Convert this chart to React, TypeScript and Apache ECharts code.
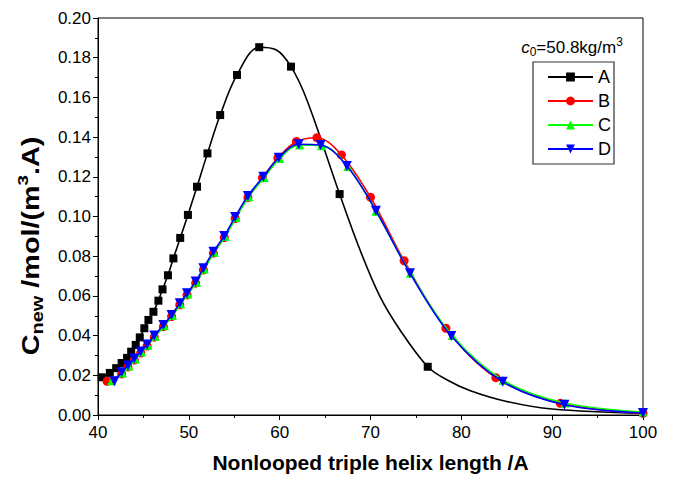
import React, { useEffect, useRef } from "react";
import * as echarts from "echarts";

// Series A (black squares); entries flagged true are read off the drawn line (no marker there)
const seriesA: [number, number, boolean?][] = [
  [40.4, 0.0190], [41.3, 0.0212], [42.0, 0.0236], [42.6, 0.0262], [43.2, 0.0288],
  [43.65, 0.0319], [44.15, 0.0353], [44.6, 0.0391], [45.1, 0.0437], [45.55, 0.0479],
  [46.1, 0.0520], [46.65, 0.0576], [47.1, 0.0633], [47.7, 0.0704], [48.3, 0.0789],
  [49.05, 0.0892], [49.9, 0.1008], [50.9, 0.1150], [52.05, 0.1318], [53.45, 0.1511],
  [55.3, 0.1713], [57.75, 0.1853], [59.6, 0.1840, true], [61.25, 0.1755],
  [63.0, 0.1587, true], [66.6, 0.1113], [68.85, 0.0831, true],
  [71.05, 0.0596, true], [73.25, 0.0428, true], [76.3, 0.0243], [78.5, 0.0175, true],
  [81.0, 0.0122, true], [85.0, 0.0068, true], [90.0, 0.0030, true], [100.0, 0.0008, true],
];

const seriesB: [number, number][] = [
  [41.0, 0.0170], [42.6, 0.0207], [43.3, 0.0242], [44.0, 0.0277], [44.7, 0.0312],
  [45.4, 0.0347], [46.2, 0.0392], [47.2, 0.0445], [48.1, 0.0496], [49.0, 0.0555],
  [49.8, 0.0605], [50.75, 0.0664], [51.6, 0.0731], [52.7, 0.0815], [53.9, 0.0894],
  [55.1, 0.0990], [56.5, 0.1095], [58.1, 0.1195], [59.8, 0.1295], [61.85, 0.1378],
  [64.1, 0.1397], [66.8, 0.1310], [70.0, 0.1097], [73.7, 0.0777], [78.3, 0.0437],
  [83.8, 0.0188], [90.9, 0.0059], [100.0, 0.0008],
];

const seriesC: [number, number][] = [
  [41.5, 0.0172], [42.7, 0.0212], [43.4, 0.0247], [44.1, 0.0282], [44.8, 0.0317],
  [45.5, 0.0352], [46.3, 0.0397], [47.3, 0.0450], [48.2, 0.0501], [49.1, 0.0560],
  [49.9, 0.0610], [50.85, 0.0669], [51.7, 0.0736], [52.8, 0.0820], [54.0, 0.0899],
  [55.2, 0.0995], [56.6, 0.1100], [58.3, 0.1197], [60.0, 0.1292], [62.2, 0.1360],
  [64.6, 0.1357], [67.5, 0.1252], [70.6, 0.1027], [74.4, 0.0714], [79.0, 0.0400],
  [84.6, 0.0175], [91.4, 0.0060], [100.0, 0.0015],
];

const seriesD: [number, number][] = [
  [41.8, 0.0170], [42.6, 0.0215], [43.3, 0.0250], [44.0, 0.0285], [44.7, 0.0320],
  [45.4, 0.0355], [46.2, 0.0400], [47.2, 0.0453], [48.1, 0.0504], [49.0, 0.0563],
  [49.8, 0.0613], [50.75, 0.0672], [51.6, 0.0739], [52.7, 0.0823], [53.9, 0.0902],
  [55.1, 0.0998], [56.5, 0.1103], [58.2, 0.1200], [59.9, 0.1296], [62.1, 0.1364],
  [64.5, 0.1360], [67.4, 0.1254], [70.6, 0.1029], [74.35, 0.0714], [78.9, 0.0398],
  [84.55, 0.0168], [91.35, 0.0052], [100.0, 0.0010],
];

const seriesNames = ["A", "B", "C", "D"];
const seriesColors = ["#000000", "#ff0000", "#00ff00", "#0000ff"];

const FONT = "Liberation Sans, Arial, sans-serif";

export default function App() {
  const ref = useRef<HTMLDivElement>(null);
  useEffect(() => {
    if (!ref.current) return;
    const chart = echarts.init(ref.current, undefined, { renderer: "svg" });
    const toData = (arr: [number, number, boolean?][]) =>
      arr.map((p) => (p[2] ? { value: [p[0], p[1]], symbol: "none" } : { value: [p[0], p[1]] }));
    const symbols = ["rect", "circle", "triangle", "path://M0,0 L10,0 L5,9 Z"];
    const sizes = [8, 9, 9, 10];
    const datas = [seriesA, seriesB, seriesC, seriesD];
    chart.setOption({
      animation: false,
      grid: {
        left: 98,
        right: 32,
        top: 18,
        bottom: 67,
        show: true,
        borderColor: "#000",
        borderWidth: 1,
        backgroundColor: "transparent",
      },
      xAxis: {
        type: "value",
        min: 40,
        max: 100,
        interval: 10,
        name: "Nonlooped triple helix length /A",
        nameLocation: "middle",
        nameGap: 37,
        nameTextStyle: { fontFamily: FONT, fontSize: 21, fontWeight: "bold", color: "#000" },
        axisLine: { show: true, lineStyle: { color: "#000", width: 1 } },
        axisTick: { show: true, length: 5, lineStyle: { color: "#000" } },
        minorTick: { show: true, splitNumber: 2, length: 3, lineStyle: { color: "#000" } },
        axisLabel: { fontFamily: FONT, fontSize: 17, color: "#000", margin: 9 },
        splitLine: { show: false },
      },
      yAxis: {
        type: "value",
        min: 0,
        max: 0.2,
        interval: 0.02,
        axisLine: { show: true, lineStyle: { color: "#000", width: 1 } },
        axisTick: { show: true, length: 5, lineStyle: { color: "#000" } },
        minorTick: { show: true, splitNumber: 2, length: 3, lineStyle: { color: "#000" } },
        axisLabel: {
          fontFamily: FONT,
          fontSize: 17,
          color: "#000",
          margin: 7,
          formatter: (v: number) => v.toFixed(2),
        },
        splitLine: { show: false },
      },
      legend: {
        orient: "vertical",
        left: 533,
        top: 62,
        padding: [6, 3, 6, 14],
        itemWidth: 45,
        itemHeight: 11,
        itemGap: 6,
        borderColor: "#333",
        borderWidth: 1.2,
        textStyle: { fontFamily: FONT, fontSize: 18, color: "#000" },
        data: seriesNames,
      },
      graphic: [
        {
          type: "text",
          x: 31,
          y: 246,
          rotation: Math.PI / 2,
          scaleX: 1.25,
          style: {
            text: "{b|C}{sub|new}{b| /mol/(m}{sup|3}{b|.A)}",
            align: "center",
            verticalAlign: "middle",
            rich: {
              b: { fontFamily: FONT, fontSize: 23, fontWeight: "bold", fill: "#000", lineHeight: 30, verticalAlign: "middle" },
              sub: { fontFamily: FONT, fontSize: 16, fontWeight: "bold", fill: "#000", lineHeight: 16, verticalAlign: "bottom" },
              sup: { fontFamily: FONT, fontSize: 15, fontWeight: "bold", fill: "#000", lineHeight: 15, verticalAlign: "top" },
            },
          },
        },
        {
          type: "text",
          x: 572,
          y: 47,
          style: {
            text: "{i|c}{sub|0}{n|=50.8kg/m}{sup|3}",
            align: "center",
            verticalAlign: "middle",
            rich: {
              i: { fontFamily: FONT, fontSize: 17, fontStyle: "italic", fill: "#000", lineHeight: 22, verticalAlign: "middle" },
              n: { fontFamily: FONT, fontSize: 17, fill: "#000", lineHeight: 22, verticalAlign: "middle" },
              sub: { fontFamily: FONT, fontSize: 12, fill: "#000", lineHeight: 12, verticalAlign: "bottom" },
              sup: { fontFamily: FONT, fontSize: 12, fill: "#000", lineHeight: 12, verticalAlign: "top" },
            },
          },
        },
      ],
      series: datas.map((d, i) => ({
        name: seriesNames[i],
        type: "line",
        smooth: 0.35,
        data: toData(d as [number, number, boolean?][]),
        symbol: symbols[i],
        symbolSize: sizes[i],
        showAllSymbol: true,
        lineStyle: { color: seriesColors[i], width: 1.6 },
        itemStyle: { color: seriesColors[i], borderWidth: 0 },
        z: 2 + i,
      })),
    });
    return () => chart.dispose();
  }, []);
  return <div ref={ref} style={{ width: 675, height: 482, margin: -8 }} />;
}
